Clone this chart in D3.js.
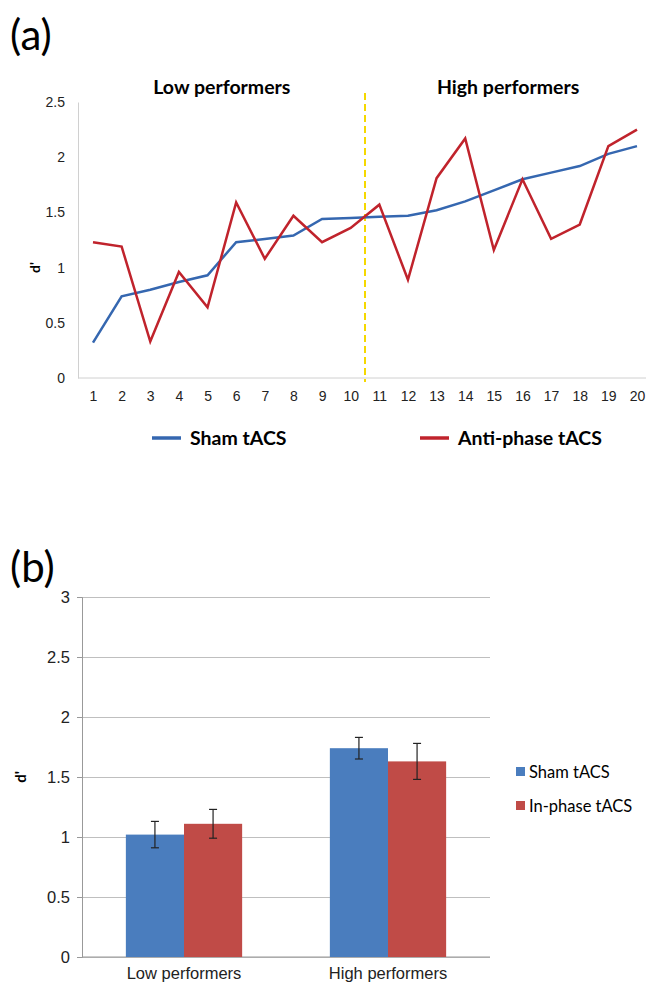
<!DOCTYPE html>
<html>
<head>
<meta charset="utf-8">
<script src="https://cdn.jsdelivr.net/npm/d3@7"></script>
<style>
  body { margin: 0; background: #fff; }
  svg { display: block; font-family: Lato, "Open Sans", sans-serif; }
  .grid line { stroke: #bfbfbf; }
  .axis text { fill: #222; }
</style>
</head>
<body>
<div class="container"></div>
<script>
(function(){

// panel (a): d' per participant, sorted by sham
var subjects = d3.range(1, 21);
var shamLine = [0.32, 0.74, 0.80, 0.87, 0.93, 1.23, 1.26, 1.29, 1.44, 1.45,
                1.46, 1.47, 1.52, 1.60, 1.70, 1.80, 1.86, 1.92, 2.03, 2.10];
var antiLine = [1.23, 1.19, 0.33, 0.96, 0.64, 1.59, 1.08, 1.47, 1.23, 1.36,
                1.57, 0.89, 1.81, 2.17, 1.16, 1.80, 1.26, 1.39, 2.10, 2.25];
var lineTicks = [0, 0.5, 1, 1.5, 2, 2.5];

// panel (b): group means with error bars
var groups = ["Low performers", "High performers"];
var barSeries = ["Sham tACS", "In-phase tACS"];
var shamMean = [1.02, 1.74];
var shamErr = [0.11, 0.09];
var inMean = [1.11, 1.63];
var inErr = [0.12, 0.15];
var barTicks = [0, 0.5, 1, 1.5, 2, 2.5, 3];

var width = 646, height = 991;

var svg = d3.select(".container")
  .append("svg")
  .attr("width", width)
  .attr("height", height);

// ---------- (a) ----------
svg.append("text")
  .attr("x", 10).attr("y", 50)
  .style("font-size", "42px")
  .text("(a)");

var xA = d3.scaleLinear().domain([1, 20]).range([93, 637]);
var yA = d3.scaleLinear().domain([0, 2.5]).range([378, 102]);

var axisA = svg.append("g")
  .attr("class", "axis")
  .attr("transform", "translate(78,0)")
  .call(d3.axisLeft(yA).tickValues(lineTicks).tickSize(0).tickPadding(13)
    .tickFormat(d3.format("")));
axisA.select(".domain").attr("stroke", "#d0d0d0");
axisA.selectAll("text").style("font-size", "14px");

svg.append("line")
  .attr("x1", 78).attr("x2", 646)
  .attr("y1", yA(0)).attr("y2", yA(0))
  .attr("stroke", "#d0d0d0");

var xAxisA = svg.append("g")
  .attr("class", "axis")
  .attr("transform", "translate(0," + yA(0) + ")")
  .call(d3.axisBottom(xA).tickValues(subjects).tickSize(0).tickPadding(13)
    .tickFormat(d3.format("d")));
xAxisA.select(".domain").remove();
xAxisA.selectAll("text").style("font-size", "14px");

svg.append("text")
  .attr("transform", "translate(40," + yA(1.0) + ") rotate(-90)")
  .attr("text-anchor", "middle")
  .style("font-size", "14px")
  .style("font-weight", "bold")
  .text("d'");

// split between low and high performers
svg.append("line")
  .attr("x1", xA(10.5)).attr("x2", xA(10.5))
  .attr("y1", 93).attr("y2", 382)
  .attr("stroke", "#f5d800")
  .attr("stroke-width", 2)
  .attr("stroke-dasharray", "7,4");

svg.append("text")
  .attr("x", xA(5.5)).attr("y", 94)
  .attr("text-anchor", "middle")
  .style("font-size", "19.5px").style("font-weight", "bold")
  .text("Low performers");
svg.append("text")
  .attr("x", xA(15.5)).attr("y", 94)
  .attr("text-anchor", "middle")
  .style("font-size", "19.5px").style("font-weight", "bold")
  .text("High performers");

var line = d3.line()
  .x(function(d, i){ return xA(subjects[i]); })
  .y(function(d){ return yA(d); });

svg.append("path")
  .datum(shamLine)
  .attr("fill", "none")
  .attr("stroke", "#3567b0")
  .attr("stroke-width", 2.5)
  .attr("d", line);

svg.append("path")
  .datum(antiLine)
  .attr("fill", "none")
  .attr("stroke", "#c0232c")
  .attr("stroke-width", 2.5)
  .attr("d", line);

// legend (a)
var legA = [
  {name: "Sham tACS", color: "#3567b0", x: 152},
  {name: "Anti-phase tACS", color: "#c0232c", x: 420}
];
legA.forEach(function(l){
  svg.append("line")
    .attr("x1", l.x).attr("x2", l.x + 29)
    .attr("y1", 438).attr("y2", 438)
    .attr("stroke", l.color).attr("stroke-width", 3.5);
  svg.append("text")
    .attr("x", l.x + 38).attr("y", 445)
    .style("font-size", "19.5px").style("font-weight", "bold")
    .text(l.name);
});

// ---------- (b) ----------
svg.append("text")
  .attr("x", 10).attr("y", 582)
  .style("font-size", "42px")
  .text("(b)");

var x0 = d3.scaleBand().domain(groups).range([82, 490]).paddingInner(0.43).paddingOuter(0.215);
var x1 = d3.scaleBand().domain(barSeries).range([0, x0.bandwidth()]);
var yB = d3.scaleLinear().domain([0, 3]).range([957, 597]);

var grid = svg.append("g")
  .attr("class", "grid")
  .attr("transform", "translate(82,0)")
  .call(d3.axisLeft(yB).tickValues(barTicks).tickSize(-408).tickFormat(""));
grid.select(".domain").remove();

var axisB = svg.append("g")
  .attr("class", "axis")
  .attr("transform", "translate(82,0)")
  .call(d3.axisLeft(yB).tickValues(barTicks).tickSize(5).tickPadding(7)
    .tickFormat(d3.format("")));
axisB.select(".domain").attr("stroke", "#999");
axisB.selectAll(".tick line").attr("stroke", "#999");
axisB.selectAll("text").style("font-size", "16.5px");

svg.append("line")
  .attr("x1", 82).attr("x2", 490)
  .attr("y1", yB(0)).attr("y2", yB(0))
  .attr("stroke", "#999");

var xAxisB = svg.append("g")
  .attr("class", "axis")
  .attr("transform", "translate(0," + yB(0) + ")")
  .call(d3.axisBottom(x0).tickSize(0).tickPadding(10));
xAxisB.select(".domain").remove();
xAxisB.selectAll("text").style("font-size", "16.5px");

svg.append("text")
  .attr("transform", "translate(26," + yB(1.5) + ") rotate(-90)")
  .attr("text-anchor", "middle")
  .style("font-size", "15px")
  .style("font-weight", "bold")
  .text("d'");

var barData = [];
groups.forEach(function(g, i){
  barData.push({group: g, series: barSeries[0], val: shamMean[i], err: shamErr[i], color: "#4a7dbe"});
  barData.push({group: g, series: barSeries[1], val: inMean[i], err: inErr[i], color: "#c04b47"});
});

svg.selectAll(".bar")
  .data(barData)
  .enter()
  .append("rect")
  .attr("class", "bar")
  .attr("x", function(d){ return x0(d.group) + x1(d.series); })
  .attr("width", x1.bandwidth())
  .attr("y", function(d){ return yB(d.val); })
  .attr("height", function(d){ return yB(0) - yB(d.val); })
  .style("fill", function(d){ return d.color; });

// error bars
var eb = svg.selectAll(".err")
  .data(barData)
  .enter()
  .append("g")
  .attr("class", "err")
  .attr("stroke", "#222")
  .attr("stroke-width", 1.2);
function cx(d){ return x0(d.group) + x1(d.series) + x1.bandwidth() / 2; }
eb.append("line")
  .attr("x1", cx).attr("x2", cx)
  .attr("y1", function(d){ return yB(d.val + d.err); })
  .attr("y2", function(d){ return yB(d.val - d.err); });
eb.append("line")
  .attr("x1", function(d){ return cx(d) - 4; }).attr("x2", function(d){ return cx(d) + 4; })
  .attr("y1", function(d){ return yB(d.val + d.err); })
  .attr("y2", function(d){ return yB(d.val + d.err); });
eb.append("line")
  .attr("x1", function(d){ return cx(d) - 4; }).attr("x2", function(d){ return cx(d) + 4; })
  .attr("y1", function(d){ return yB(d.val - d.err); })
  .attr("y2", function(d){ return yB(d.val - d.err); });

// legend (b)
var legColors = ["#4a7dbe", "#c04b47"];
barSeries.forEach(function(s, i){
  var y = 772 + i * 34;
  svg.append("rect")
    .attr("x", 516).attr("y", y - 5)
    .attr("width", 9).attr("height", 9)
    .style("fill", legColors[i]);
  svg.append("text")
    .attr("x", 529).attr("y", y + 6)
    .style("font-size", "16.5px")
    .text(s);
});

})();
</script>
</body>
</html>
